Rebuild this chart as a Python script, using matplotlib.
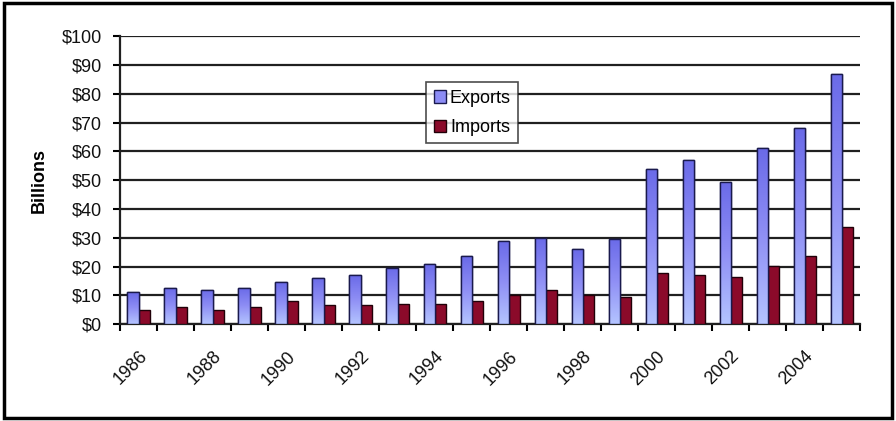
import matplotlib
matplotlib.use("Agg")
import matplotlib.pyplot as plt
import matplotlib.transforms as mtransforms
import numpy as np
from matplotlib.patches import Rectangle
from matplotlib.colors import LinearSegmentedColormap

years = list(range(1986, 2006))
exports = [11, 12.5, 12, 12.5, 14.5, 16, 17, 19.5, 21, 23.5, 29, 30, 26, 29.6, 54, 57, 49.5, 61.3, 68, 87]
imports = [5, 6, 5, 6, 8, 6.5, 6.5, 7, 7, 8, 10, 12, 10, 9.5, 17.7, 17.1, 16.5, 20.2, 23.7, 33.6]
yticks = list(range(0, 101, 10))
ytick_labels = [f"${v}" for v in yticks]
xtick_labels = [str(y) for y in years[::2]]

plt.rcParams['font.family'] = ['Liberation Sans', 'DejaVu Sans']

fig = plt.figure(figsize=(8.96, 4.21), dpi=100)
ax = fig.add_axes([0.134, 0.23, 0.826, 0.684])

x = np.arange(len(years))
w = 0.3
bars_e = ax.bar(x - w / 2, exports, w, color='#8c8cf5', edgecolor='#1a1a4d', linewidth=1.0,
                label='Exports', zorder=3)
bars_i = ax.bar(x + w / 2, imports, w, color='#8b0a2a', edgecolor='#200008', linewidth=1.0,
                label='Imports', zorder=3)

# gradient fill for export bars
cmap = LinearSegmentedColormap.from_list('g', ['#6a6ae8', '#8f8ff5', '#b4c4ff'])
grad = np.linspace(0, 1, 256).reshape(-1, 1)
for b in bars_e:
    bx, by = b.get_x(), b.get_y()
    bw, bh = b.get_width(), b.get_height()
    im = ax.imshow(grad, cmap=cmap, extent=[bx, bx + bw, by, by + bh], aspect='auto',
                   origin='upper', zorder=3.5, interpolation='bilinear')
    im.set_clip_path(b)
    ax.add_patch(Rectangle((bx, by), bw, bh, fill=False, edgecolor='#1a1a4d', linewidth=1.0, zorder=4))

ax.set_xlim(-0.5, len(years) - 0.5)
ax.set_ylim(0, 100)
ax.set_yticks(yticks)
ax.set_yticklabels(ytick_labels, fontsize=13, color='#111111')
ax.yaxis.grid(True, color='#202020', linewidth=1.6, zorder=0)
ax.set_axisbelow(True)

ax.set_xticks(x[::2])
ax.set_xticklabels(xtick_labels, rotation=45, ha='right', rotation_mode='anchor',
                   fontsize=13, color='#111111')
offset = mtransforms.ScaledTranslation(-10 / 100, 0, fig.dpi_scale_trans)
for lbl in ax.get_xticklabels():
    lbl.set_transform(lbl.get_transform() + offset)
ax.set_xticks(np.arange(-0.5, len(years), 1), minor=True)
ax.tick_params(axis='x', which='major', length=0, pad=17)
ax.tick_params(axis='x', which='minor', length=5, width=1.5, direction='out')
ax.tick_params(axis='y', length=5, width=1.5, direction='out', pad=8)

for s in ['top', 'right']:
    ax.spines[s].set_visible(False)
for s in ['left', 'bottom']:
    ax.spines[s].set_linewidth(1.6)
    ax.spines[s].set_color('#202020')

ax.set_ylabel('Billions', fontsize=13, fontweight='bold', labelpad=10)

leg = ax.legend(loc='upper left', bbox_to_anchor=(0.414, 0.84), fontsize=13, frameon=True,
                fancybox=False, edgecolor='#202020', handlelength=0.7, handleheight=0.7,
                handletextpad=0.2, borderpad=0.4, labelspacing=0.7, borderaxespad=0)
leg.get_frame().set_linewidth(1.2)
leg.set_zorder(6)

fig.patches.append(Rectangle((0.004, 0.008), 0.992, 0.985, transform=fig.transFigure,
                             fill=False, edgecolor='black', linewidth=2.5))

fig.savefig('out.png', dpi=100)
